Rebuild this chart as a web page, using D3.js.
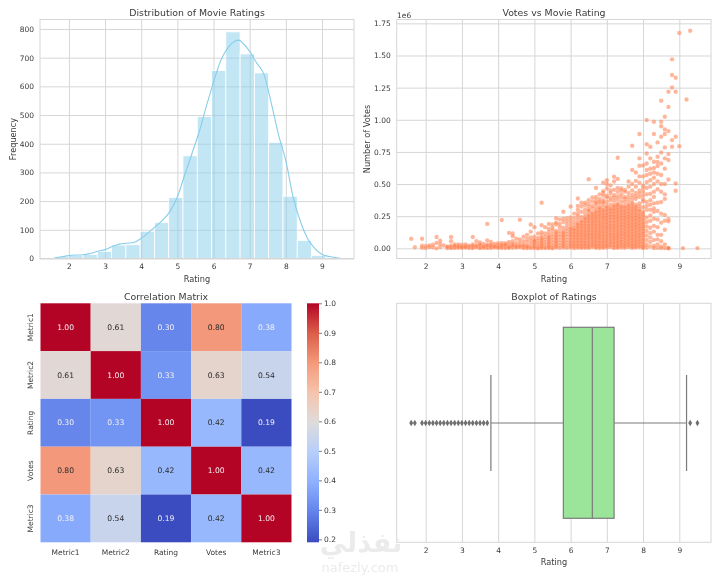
<!DOCTYPE html>
<html>
<head>
<meta charset="utf-8">
<script src="https://cdn.jsdelivr.net/npm/d3@7"></script>
<style>
  html, body { margin: 0; padding: 0; background: #fff; }
  svg { display: block; filter: blur(0.35px); }
  text { font-family: "DejaVu Sans", sans-serif; fill: #3a3a3a; }
  .tick text { font-size: 7.5px; }
  .title { font-size: 9.4px; text-anchor: middle; }
  .label { font-size: 8.2px; text-anchor: middle; }
  .grid line { stroke: #d6d6d6; stroke-width: 1; }
  .grid .domain { display: none; }
  .frame { fill: none; stroke: #d6d6d6; stroke-width: 1; }
</style>
</head>
<body>
<svg class="chart" width="720" height="576"></svg>
<script>
// histogram
const histEdges = [1.6, 1.995, 2.39, 2.785, 3.18, 3.575, 3.97, 4.365, 4.76, 5.155, 5.55, 5.945, 6.34, 6.735, 7.13, 7.525, 7.92, 8.315, 8.71, 9.105, 9.5];
const histCounts = [7, 11, 14, 25, 47, 48, 95, 125, 213, 358, 495, 655, 790, 713, 647, 405, 217, 63, 10, 3];
const kdeX = [1.6, 1.8, 2.0, 2.2, 2.4, 2.6, 2.8, 3.0, 3.2, 3.4, 3.6, 3.8, 4.0, 4.2, 4.4, 4.6, 4.8, 5.0, 5.2, 5.4, 5.6, 5.8, 6.0, 6.2, 6.4, 6.6, 6.7, 6.8, 7.0, 7.2, 7.4, 7.6, 7.8, 8.0, 8.2, 8.4, 8.6, 8.8, 9.0, 9.2, 9.5];
const kdeY = [2, 6, 10, 12, 13, 18, 25, 31, 42, 50, 53, 56, 70, 90, 112, 135, 165, 215, 290, 365, 440, 530, 615, 690, 735, 758, 761, 752, 722, 680, 640, 540, 430, 340, 215, 130, 70, 35, 14, 7, 1];
const histTicks = [0, 100, 200, 300, 400, 500, 600, 700, 800];
const ratingTicks = [2, 3, 4, 5, 6, 7, 8, 9];

// scatter: ratings and the votes (thousands) read at each rating
const scatterRatings = [1.6, 1.7, 1.9, 2.0, 2.1, 2.2, 2.3, 2.4, 2.5, 2.6, 2.7, 2.8, 2.9, 3.0, 3.1, 3.2, 3.3, 3.4, 3.5, 3.6, 3.7, 3.8, 3.9, 4.0, 4.1, 4.2, 4.3, 4.4, 4.5, 4.6, 4.7, 4.8, 4.9, 5.0, 5.1, 5.2, 5.3, 5.4, 5.5, 5.6, 5.7, 5.8, 5.9, 6.0, 6.1, 6.2, 6.3, 6.4, 6.5, 6.6, 6.7, 6.8, 6.9, 7.0, 7.1, 7.2, 7.3, 7.4, 7.5, 7.6, 7.7, 7.8, 7.9, 8.0, 8.1, 8.2, 8.3, 8.4, 8.5, 8.6, 8.7, 8.8, 8.9, 9.0, 9.1, 9.2, 9.3, 9.5];
const scatterVotes = [
  [75], [8], [75, 20, 5], [18, 3], [22, 10], [28, 8], [88, 42, 0], [60, 35, 10], [22], [2, 8],
  [88, 55, 8, 2], [30, 12, 3], [30, 18, 5], [28, 15, 4], [30, 18, 6], [12, 3], [88, 30, 10, 3], [55, 25, 8], [45, 22, 8, 2], [35, 18, 5],
  [190, 62, 30, 12, 3], [50, 30, 12, 3], [35, 20, 8], [40, 28, 15, 4], [220, 42, 28, 12, 3], [40, 25, 12, 3], [120, 50, 30, 15, 4], [115, 95, 55, 35, 18, 5], [75, 40, 20, 6], [222, 70, 45, 25, 8],
  [90, 55, 30, 10, 2], [105, 75, 50, 25, 8, 2], [185, 130, 85, 60, 35, 12, 3], [165, 90, 70, 45, 25, 8, 2], [115, 80, 60, 40, 22, 6, 1], [355, 180, 105, 85, 62, 42, 24, 8, 2], [165, 115, 90, 68, 48, 28, 10, 2], [190, 125, 100, 78, 55, 35, 15, 3], [185, 140, 112, 90, 68, 45, 25, 8, 1], [235, 185, 135, 112, 88, 65, 44, 24, 6],
  [225, 165, 135, 110, 88, 66, 44, 22, 5], [285, 205, 160, 135, 112, 90, 68, 46, 24, 6], [235, 185, 158, 135, 112, 90, 66, 44, 22, 4], [325, 240, 190, 165, 140, 115, 92, 68, 46, 24, 6], [270, 205, 180, 158, 135, 112, 90, 66, 44, 22, 3], [388, 330, 250, 225, 200, 178, 155, 132, 110, 88, 66, 44, 22, 5], [325, 245, 220, 198, 175, 152, 130, 108, 86, 64, 42, 20, 4], [335, 270, 245, 222, 200, 178, 155, 132, 110, 88, 66, 44, 22, 5], [538, 375, 320, 290, 265, 242, 220, 198, 175, 152, 130, 108, 86, 64, 42, 20, 4], [365, 310, 280, 256, 232, 210, 188, 165, 142, 120, 98, 76, 54, 32, 10],
  [470, 375, 345, 318, 294, 270, 246, 222, 198, 175, 152, 130, 108, 86, 64, 42, 20, 4], [385, 350, 322, 298, 274, 250, 226, 202, 178, 155, 132, 110, 88, 66, 44, 22, 3], [510, 430, 375, 345, 320, 296, 272, 248, 224, 200, 176, 152, 130, 108, 86, 64, 42, 20, 4], [530, 465, 410, 360, 330, 306, 282, 258, 234, 210, 186, 162, 140, 116, 92, 68, 46, 24, 6], [490, 450, 395, 340, 316, 292, 268, 244, 220, 196, 172, 148, 124, 100, 78, 54, 32, 10], [557, 520, 415, 370, 340, 316, 292, 268, 244, 220, 196, 172, 148, 124, 100, 78, 56, 34, 12, 2], [705, 540, 440, 380, 350, 326, 300, 276, 252, 228, 204, 180, 156, 132, 108, 86, 64, 42, 20, 4], [465, 420, 365, 335, 310, 286, 262, 238, 214, 190, 166, 142, 120, 96, 72, 50, 28, 6], [455, 400, 360, 332, 306, 282, 258, 234, 210, 186, 162, 138, 114, 92, 68, 46, 24, 4], [520, 430, 375, 345, 318, 292, 268, 244, 220, 196, 172, 148, 124, 100, 78, 54, 32, 10],
  [798, 610, 500, 415, 360, 330, 304, 280, 256, 232, 208, 184, 160, 136, 112, 88, 66, 44, 22, 4], [590, 525, 430, 385, 340, 312, 288, 262, 238, 214, 190, 166, 142, 118, 94, 70, 48, 26, 6], [889, 700, 643, 510, 450, 400, 350, 305, 278, 250, 226, 200, 176, 150, 126, 102, 78, 54, 30, 8], [645, 560, 490, 470, 410, 365, 320, 270, 240, 212, 185, 160, 135, 110, 85, 60, 36, 14, 2], [998, 810, 738, 660, 610, 570, 515, 470, 420, 360, 300, 240, 205, 170, 135, 100, 65, 30, 6], [790, 700, 620, 580, 530, 480, 425, 375, 300, 255, 215, 160, 120, 85, 50, 15], [985, 889, 674, 625, 590, 550, 500, 440, 400, 350, 285, 230, 175, 130, 65, 20, 3], [824, 712, 672, 640, 580, 520, 460, 355, 290, 225, 165, 105, 70, 30, 4], [1148, 985, 950, 868, 745, 660, 570, 500, 440, 360, 270, 200, 105, 55, 15, 2], [1024, 925, 889, 785, 700, 620, 500, 420, 385, 260, 215, 145, 30, 3],
  [1218, 1100, 912, 733, 687, 535, 228, 210, 4, 2, 0], [1470, 1348, 1252, 842, 790], [1327, 1218, 868, 505, 448], [1675, 795], [2], [1158], [1693], [2]
];
// second pass over the crowded part of the cloud
const extraRatings = [2.6, 2.7, 2.8, 2.9, 3.0, 3.1, 3.2, 3.3, 3.4, 3.5, 3.6, 3.7, 3.8, 3.9, 4.0, 4.1, 4.2, 4.3, 4.4, 4.5, 4.6, 4.7, 4.8, 5.0, 5.2, 5.4, 5.5, 5.6, 5.7, 5.8, 5.9, 6.0, 6.1, 6.2, 6.2, 6.3, 6.3, 6.4, 6.4, 6.5, 6.5, 6.6, 6.6, 6.7, 6.7, 6.8, 6.8, 6.9, 6.9, 6.9, 7.0, 7.0, 7.1, 7.1, 7.2, 7.2, 7.3, 7.3, 7.4, 7.4, 7.5, 7.5, 7.6, 7.6, 7.7, 7.7, 7.8, 7.8, 7.9, 7.9, 8.0, 8.0, 8.1, 8.2, 8.3];
const extraVotes = [15, 20, 20, 10, 8, 10, 20, 20, 15, 30, 10, 22, 20, 12, 8, 20, 30, 8, 25, 12, 15, 20, 15, 55, 125, 150, 160, 200, 190, 230, 210, 215, 235, 300, 270, 285, 355, 300, 355, 345, 295, 330, 395, 400, 355, 365, 420, 360, 410, 445, 395, 500, 375, 430, 395, 455, 405, 470, 395, 450, 385, 440, 400, 480, 390, 450, 405, 480, 425, 560, 380, 440, 330, 340, 310];
// third pass: the solid core, where many films stack at the same spot
const coreRatings = [5.0, 5.2, 5.4, 5.6, 5.8, 6.0, 6.1, 6.2, 6.3, 6.4, 6.5, 6.6, 6.7, 6.8, 6.9, 7.0, 7.1, 7.2, 7.3, 7.4, 7.5, 7.6, 7.7, 7.8, 7.9, 8.0];
const coreVotes = [
  [12, 35, 58], [14, 33, 52, 74], [8, 24, 45, 66, 88], [14, 34, 54, 76, 98, 122], [14, 34, 56, 78, 100, 122], [14, 34, 56, 80, 104, 128, 152],
  [12, 32, 54, 78, 100, 124, 146], [12, 32, 54, 76, 98, 120, 142, 166, 188], [10, 30, 52, 74, 96, 118, 140, 162, 186, 208], [12, 32, 54, 76, 98, 120, 142, 166, 188, 210, 232],
  [10, 30, 52, 74, 96, 118, 140, 162, 186, 208, 230, 254], [20, 42, 64, 86, 108, 130, 154, 176, 198, 220, 244, 268], [10, 30, 52, 74, 96, 118, 140, 162, 186, 210, 234, 258, 282], [12, 32, 54, 76, 98, 120, 142, 166, 190, 214, 238, 262, 286, 310], [12, 34, 56, 80, 104, 128, 152, 176, 200, 224, 246, 270, 294],
  [14, 34, 58, 80, 104, 128, 152, 174, 198, 222, 246, 270, 294, 318], [20, 44, 66, 90, 112, 136, 160, 184, 208, 232, 256, 280, 304], [22, 46, 68, 90, 114, 138, 160, 184, 208, 232, 256, 280, 304, 328], [10, 30, 52, 74, 96, 120, 144, 168, 192, 216, 240, 264, 288, 314, 338], [16, 38, 60, 84, 108, 130, 154, 178, 202, 226, 250, 274, 298, 322],
  [14, 34, 58, 80, 104, 126, 150, 174, 198, 222, 246, 270, 294, 320], [20, 44, 66, 90, 112, 136, 160, 184, 208, 232, 256, 280, 306, 332], [12, 32, 54, 76, 100, 124, 148, 172, 196, 220, 244, 268, 292, 316, 345], [14, 36, 58, 82, 106, 130, 154, 178, 202, 226, 250, 274, 300, 326], [18, 42, 66, 90, 114, 138, 162, 188, 214, 238, 264, 292, 328], [8, 24, 48, 72, 98, 122, 148, 172, 198, 226, 256, 285]
];

// correlation heatmap
const corrNames = ["Metric1", "Metric2", "Rating", "Votes", "Metric3"];
const corrValues = [
  [1.00, 0.61, 0.30, 0.80, 0.38],
  [0.61, 1.00, 0.33, 0.63, 0.54],
  [0.30, 0.33, 1.00, 0.42, 0.19],
  [0.80, 0.63, 0.42, 1.00, 0.42],
  [0.38, 0.54, 0.19, 0.42, 1.00]
];
const corrTicks = [0.2, 0.3, 0.4, 0.5, 0.6, 0.7, 0.8, 0.9, 1.0];
const coolwarm = ["#3b4cc0", "#6282ea", "#8db0fe", "#b6cefa", "#dddcdc", "#f5c4ac", "#f49a7b", "#dc5d4a", "#b40426"];

// boxplot
const boxStats = { q1: 5.8, median: 6.6, q3: 7.2, low: 3.8, high: 9.2 };
const boxOutliers = [1.6, 1.7, 1.9, 2.0, 2.1, 2.2, 2.3, 2.4, 2.5, 2.6, 2.7, 2.8, 2.9, 3.0, 3.1, 3.2, 3.3, 3.4, 3.5, 3.6, 3.7, 9.3, 9.5];

const svg = d3.select(".chart");
svg.append("rect").attr("width", 720).attr("height", 576).attr("fill", "#fff");

function xAxis(g, x, top, bottom, tickY) {
  const a = g.append("g").attr("class", "grid").attr("transform", `translate(0,${bottom})`)
    .call(d3.axisBottom(x).tickValues(ratingTicks).tickFormat(d3.format("d")).tickSize(-(bottom - top)).tickPadding(tickY));
  return a;
}

function yAxis(g, y, left, right, values, fmt) {
  g.append("g").attr("class", "grid").attr("transform", `translate(${left},0)`)
    .call(d3.axisLeft(y).tickValues(values).tickFormat(fmt).tickSize(-(right - left)).tickPadding(6));
}

function title(text, x, y) {
  svg.append("text").attr("class", "title").attr("x", x).attr("y", y).text(text);
}

function label(text, x, y, rotate) {
  svg.append("text").attr("class", "label")
    .attr("transform", `translate(${x},${y})` + (rotate ? " rotate(-90)" : ""))
    .text(text);
}

// top left: histogram with kde
const hist = svg.append("g");
const hx = d3.scaleLinear().domain([1.2, 9.885]).range([40, 354]);
const hy = d3.scaleLinear().domain([0, 833]).range([258.5, 19.5]);
xAxis(hist, hx, 19.5, 258.5, 5);
yAxis(hist, hy, 40, 354, histTicks, d3.format("d"));
hist.selectAll(".bar").data(histCounts).enter().append("rect")
  .attr("class", "bar")
  .attr("x", (d, i) => hx(histEdges[i]))
  .attr("width", (d, i) => hx(histEdges[i + 1]) - hx(histEdges[i]))
  .attr("y", d => hy(d))
  .attr("height", d => hy(0) - hy(d))
  .attr("fill", "#87ceeb").attr("fill-opacity", 0.5)
  .attr("stroke", "#fff").attr("stroke-width", 0.8);
hist.append("path")
  .attr("d", d3.line().x(d => hx(d)).y((d, i) => hy(kdeY[i])).curve(d3.curveMonotoneX)(kdeX))
  .attr("fill", "none").attr("stroke", "#87ceeb").attr("stroke-width", 1.1);
hist.append("rect").attr("class", "frame").attr("x", 40).attr("y", 19.5).attr("width", 314).attr("height", 239);
title("Distribution of Movie Ratings", 197, 16);
label("Rating", 197, 282);
label("Frequency", 15.5, 139, true);

// top right: scatter
const scat = svg.append("g");
const sx = d3.scaleLinear().domain([1.2, 9.875]).range([396.7, 711]);
const sy = d3.scaleLinear().domain([-79, 1780]).range([258.5, 19.5]);
xAxis(scat, sx, 19.5, 258.5, 5);
yAxis(scat, sy, 396.7, 711, [0, 250, 500, 750, 1000, 1250, 1500, 1750], d => (d / 1000).toFixed(2));
function dots(r, votes) {
  scat.selectAll(null).data(votes).enter().append("circle")
    .attr("cx", sx(r))
    .attr("cy", d => sy(d))
    .attr("r", 2.2)
    .attr("fill", "#ff7f50").attr("fill-opacity", 0.58)
    .attr("stroke", "#fff").attr("stroke-opacity", 0.3).attr("stroke-width", 0.4);
}
scatterRatings.forEach((r, i) => dots(r, scatterVotes[i]));
extraRatings.forEach((r, i) => dots(r, [extraVotes[i]]));
coreRatings.forEach((r, i) => dots(r, coreVotes[i]));
scat.append("rect").attr("class", "frame").attr("x", 396.7).attr("y", 19.5).attr("width", 314.3).attr("height", 239);
title("Votes vs Movie Rating", 554, 16);
label("Rating", 554, 282);
label("Number of Votes", 370, 139, true);
svg.append("text").attr("x", 397).attr("y", 17.5).attr("font-size", 7.5).text("1e6");

// bottom left: heatmap
const heat = svg.append("g");
const cx = d3.scaleBand().domain(corrNames).range([40.5, 291.5]);
const cy = d3.scaleBand().domain(corrNames).range([303.3, 542.3]);
const cstops = coolwarm.map((c, i) => 0.19 + i * (1.0 - 0.19) / (coolwarm.length - 1));
const ccolor = d3.scaleLinear().domain(cstops).range(coolwarm);
corrValues.forEach((row, i) => {
  const cells = heat.selectAll(null).data(row).enter().append("g");
  cells.append("rect")
    .attr("x", (d, j) => cx(corrNames[j]))
    .attr("y", cy(corrNames[i]))
    .attr("width", cx.bandwidth())
    .attr("height", cy.bandwidth())
    .attr("fill", d => ccolor(d));
  cells.append("text")
    .attr("x", (d, j) => cx(corrNames[j]) + cx.bandwidth() / 2)
    .attr("y", cy(corrNames[i]) + cy.bandwidth() / 2)
    .attr("dy", "0.35em")
    .attr("text-anchor", "middle")
    .attr("font-size", 7.6)
    .style("fill", d => (d < 0.4 || d === 1 ? "#f2f2f2" : "#2a2a2a"))
    .text(d => d.toFixed(2));
});
heat.selectAll(".xname").data(corrNames).enter().append("text")
  .attr("class", "xname").attr("font-size", 7.5).attr("text-anchor", "middle")
  .attr("x", d => cx(d) + cx.bandwidth() / 2).attr("y", 554.5).text(d => d);
heat.selectAll(".yname").data(corrNames).enter().append("text")
  .attr("class", "yname").attr("font-size", 7.5).attr("text-anchor", "middle")
  .attr("transform", d => `translate(33,${cy(d) + cy.bandwidth() / 2}) rotate(-90)`).text(d => d);
title("Correlation Matrix", 166, 299.5);

// colorbar
const grad = svg.append("defs").append("linearGradient").attr("id", "cbar")
  .attr("x1", 0).attr("y1", 1).attr("x2", 0).attr("y2", 0);
grad.selectAll("stop").data(coolwarm).enter().append("stop")
  .attr("offset", (d, i) => i / (coolwarm.length - 1)).attr("stop-color", d => d);
const by = d3.scaleLinear().domain([0.19, 1.0]).range([542.3, 303.3]);
svg.append("rect").attr("x", 307).attr("y", 303.3).attr("width", 12).attr("height", 239).attr("fill", "url(#cbar)");
const cbarAxis = svg.append("g").attr("transform", "translate(319,0)")
  .call(d3.axisRight(by).tickValues(corrTicks).tickFormat(d3.format(".1f")).tickSize(3).tickPadding(2));
cbarAxis.select(".domain").remove();
cbarAxis.selectAll("line").attr("stroke", "#444").attr("stroke-width", 0.7);

// bottom right: boxplot
const box = svg.append("g");
const bx = d3.scaleLinear().domain([1.2, 9.875]).range([396.7, 711]);
const bcenter = 423;
xAxis(box, bx, 303.3, 542.3, 5);
box.append("rect").attr("class", "frame").attr("x", 396.7).attr("y", 303.3).attr("width", 314.3).attr("height", 239);
const lineColor = "#7b7b7b";
box.append("line").attr("x1", bx(boxStats.low)).attr("x2", bx(boxStats.q1)).attr("y1", bcenter).attr("y2", bcenter).attr("stroke", lineColor).attr("stroke-width", 1.2);
box.append("line").attr("x1", bx(boxStats.q3)).attr("x2", bx(boxStats.high)).attr("y1", bcenter).attr("y2", bcenter).attr("stroke", lineColor).attr("stroke-width", 1.2);
[boxStats.low, boxStats.high].forEach(v => {
  box.append("line").attr("x1", bx(v)).attr("x2", bx(v)).attr("y1", 375).attr("y2", 471).attr("stroke", lineColor).attr("stroke-width", 1.2);
});
box.append("rect")
  .attr("x", bx(boxStats.q1)).attr("width", bx(boxStats.q3) - bx(boxStats.q1))
  .attr("y", 327.3).attr("height", 191)
  .attr("fill", "#9ae59a").attr("stroke", lineColor).attr("stroke-width", 1.2);
box.append("line").attr("x1", bx(boxStats.median)).attr("x2", bx(boxStats.median)).attr("y1", 327.3).attr("y2", 518.3).attr("stroke", lineColor).attr("stroke-width", 1.2);
box.selectAll(".flier").data(boxOutliers).enter().append("path")
  .attr("class", "flier")
  .attr("transform", d => `translate(${bx(d)},${bcenter})`)
  .attr("d", d3.symbol(d3.symbolDiamond, 13))
  .attr("fill", "#6f6f6f");
title("Boxplot of Ratings", 554, 299.5);
label("Rating", 554, 565);

// watermark
svg.append("text").attr("x", 361).attr("y", 552).attr("text-anchor", "middle").attr("font-size", 27).attr("font-weight", "bold")
  .style("fill", "#ebebeb").text("نفذلي");
svg.append("text").attr("x", 360).attr("y", 572).attr("text-anchor", "middle").attr("font-size", 13)
  .style("fill", "#ebebeb").text("nafezly.com");
</script>
</body>
</html>
